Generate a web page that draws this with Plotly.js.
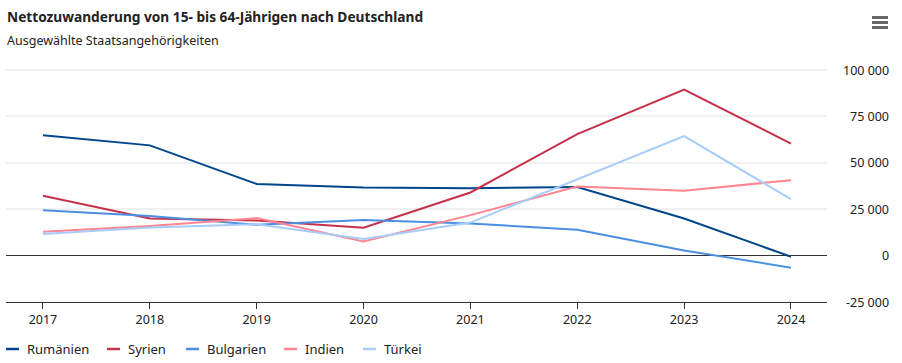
<!DOCTYPE html>
<html><head><meta charset="utf-8">
<script src="https://cdn.plot.ly/plotly-3.0.1.min.js"></script>
<style>body{margin:0;background:#fff}#c{width:902px;height:363px}</style>
</head><body><div id="c"></div>
<script>
const years = [2017, 2018, 2019, 2020, 2021, 2022, 2023, 2024];
const seriesNames = ["Rumänien", "Syrien", "Bulgarien", "Indien", "Türkei"];
const rumaenien = [64800, 59400, 38600, 36700, 36300, 37000, 20000, -600];
const syrien    = [32200, 20000, 18900, 15000, 34000, 65500, 89500, 60300];
const bulgarien = [24500, 21400, 16600, 19200, 17300, 13900, 2800, -6500];
const indien    = [12800, 16000, 20200, 7600, 21800, 37200, 35000, 40600];
const tuerkei   = [11700, 15200, 16900, 8900, 17800, 41000, 64400, 30400];
const yTickVals = [100000, 75000, 50000, 25000, 0, -25000];
const yTickText = ["100 000", "75 000", "50 000", "25 000", "0", "-25 000"];
const titleText = "Nettozuwanderung von 15- bis 64-Jährigen nach Deutschland";
const subtitleText = "Ausgewählte Staatsangehörigkeiten";
const colors = ["#01468b", "#c5304b", "#4b8fe2", "#ff8590", "#a7cdfb"];

const FONT = "Noto Sans, sans-serif";
const allData = [rumaenien, syrien, bulgarien, indien, tuerkei];
const traces = allData.map((d, i) => ({
  x: years, y: d, name: seriesNames[i], type: "scatter", mode: "lines",
  line: {color: colors[i], width: 2}, showlegend: false, hoverinfo: "x+y+name"
}));

const shapes = [];
const annotations = [];
// top gridline (at range edge)
shapes.push({type: "line", xref: "paper", yref: "y", x0: 0, x1: 1, y0: yTickVals[0], y1: yTickVals[0],
  line: {color: "#f0f0f0", width: 2}, layer: "below"});
// title & subtitle
annotations.push({xref: "paper", yref: "paper", x: 0, y: 1, xanchor: "left", yanchor: "middle",
  xshift: -1, yshift: 53, text: "<b>" + titleText + "</b>", showarrow: false,
  font: {family: FONT, size: 13.7, color: "#222"}});
annotations.push({xref: "paper", yref: "paper", x: 0, y: 1, xanchor: "left", yanchor: "middle",
  xshift: -1, yshift: 29, text: subtitleText, showarrow: false,
  font: {family: FONT, size: 12.5, color: "#222"}});
// y tick labels (right aligned)
yTickVals.forEach((v, i) => {
  annotations.push({xref: "paper", yref: "y", x: 1, y: v, xanchor: "right", yanchor: "middle",
    xshift: 64, text: yTickText[i], showarrow: false, font: {family: FONT, size: 12.5, color: "#222"}});
});
// custom legend
const legX = [6, 107, 186, 284, 363];
seriesNames.forEach((n, i) => {
  shapes.push({type: "line", xref: "paper", yref: "paper", xsizemode: "pixel", ysizemode: "pixel",
    xanchor: (legX[i] - 6) / 821, yanchor: 0, x0: 0, x1: 13, y0: -47, y1: -47,
    line: {color: colors[i], width: 2.5}});
  annotations.push({xref: "paper", yref: "paper", x: (legX[i] - 6) / 821, y: 0, xanchor: "left", yanchor: "middle",
    xshift: 19, yshift: -47, text: n, showarrow: false, font: {family: FONT, size: 13, color: "#222"}});
});
// hamburger menu icon
[17.5, 22.5, 27.5].forEach(yy => {
  shapes.push({type: "line", xref: "paper", yref: "paper", xsizemode: "pixel", ysizemode: "pixel",
    xanchor: 1, yanchor: 1, x0: 45, x1: 61, y0: 69 - yy, y1: 69 - yy, line: {color: "#666", width: 3}});
});

const layout = {
  width: 902, height: 363,
  margin: {l: 6, r: 75, t: 69, b: 61},
  paper_bgcolor: "#fff", plot_bgcolor: "#fff",
  font: {family: FONT, size: 12, color: "#222"},
  xaxis: {range: [2016.654, 2024.337], tickvals: years, ticktext: years.map(String),
    showgrid: false, zeroline: false, showline: true, linecolor: "#333", linewidth: 1,
    ticks: "outside", ticklen: 6, tickcolor: "#333", tickfont: {family: FONT, size: 12.5, color: "#222"}, fixedrange: true},
  yaxis: {range: [-25000, 100540], tickvals: yTickVals, showticklabels: false,
    showgrid: true, gridcolor: "#f0f0f0", gridwidth: 2, zeroline: true, zerolinecolor: "#333", zerolinewidth: 1,
    showline: false, fixedrange: true},
  shapes: shapes, annotations: annotations, showlegend: false
};
Plotly.newPlot("c", traces, layout, {displayModeBar: false, staticPlot: true});
</script></body></html>
